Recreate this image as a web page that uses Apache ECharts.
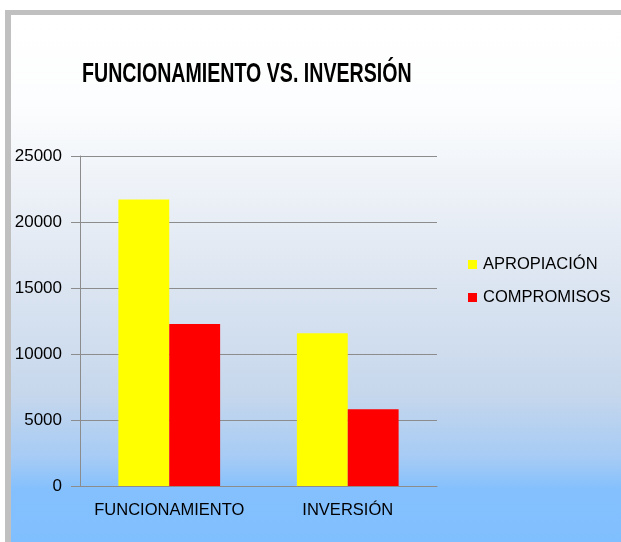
<!DOCTYPE html>
<html lang="es">
<head>
	<meta charset="UTF-8">
	<title>Funcionamiento vs. Inversión</title>
	<script src="https://cdn.jsdelivr.net/npm/echarts@6/dist/echarts.min.js"></script>
	<style>
		html, body { margin: 0; padding: 0; background: #fff; }
		#chart { width: 621px; height: 542px; }
	</style>
</head>
<body>
	<div id="chart"></div>
	<script>
		// datos
		var categorias = ['FUNCIONAMIENTO', 'INVERSIÓN'];
		var apropiacion = [21700, 11570];
		var compromisos = [12270, 5810];
		var nombresSeries = ['APROPIACIÓN', 'COMPROMISOS'];
		var titulo = 'FUNCIONAMIENTO VS. INVERSIÓN';

		var fuente = 'Liberation Sans, Arial, sans-serif';

		var chart = echarts.init(document.getElementById('chart'));
		var option = {
			backgroundColor: '#fff',
			animation: false,
			graphic: [
				// marco gris arriba / izquierda
				{ type: 'rect', z: -20, silent: true,
					shape: { x: 5, y: 10, width: 616, height: 532 },
					style: { fill: '#c0c0c0' } },
				// fondo degradado
				{ type: 'rect', z: -19, silent: true,
					shape: { x: 11, y: 15, width: 610, height: 527 },
					style: {
						fill: new echarts.graphic.LinearGradient(0, 0, 0, 1, [
							{ offset: 0, color: '#ffffff' },
							{ offset: 0.17, color: '#fcfdfe' },
							{ offset: 0.45, color: '#e2e9f3' },
							{ offset: 0.72, color: '#c6d7ec' },
							{ offset: 0.84, color: '#a6cbf5' },
							{ offset: 0.9, color: '#84c0fd' },
							{ offset: 1, color: '#80bfff' }
						])
					} },
				// titulo (letra estrecha: se comprime en horizontal)
				{ type: 'text', z: 10, silent: true,
					x: 82, y: 74, scaleX: 0.7,
					style: {
						text: titulo,
						font: 'bold 28px ' + fuente,
						fill: '#000',
						verticalAlign: 'middle'
					} }
			],
			legend: {
				data: nombresSeries,
				orient: 'vertical',
				left: 468,
				top: 256,
				padding: 0,
				itemWidth: 9,
				itemHeight: 9,
				itemGap: 16,
				icon: 'rect',
				textStyle: { fontFamily: fuente, fontSize: 16.5, color: '#000', padding: [0, 0, 0, 1] }
			},
			grid: { left: 80, right: 184, top: 156, bottom: 56 },
			xAxis: {
				type: 'category',
				data: categorias,
				axisLine: { lineStyle: { color: '#8c8c8c' } },
				axisTick: { length: 6, lineStyle: { color: '#8c8c8c' } },
				axisLabel: { interval: 0, fontFamily: fuente, fontSize: 16.5, color: '#000', margin: 16 }
			},
			yAxis: {
				type: 'value',
				min: 0,
				max: 25000,
				interval: 5000,
				axisLine: { show: true, lineStyle: { color: '#8c8c8c' } },
				axisTick: { show: true, length: 9, lineStyle: { color: '#8c8c8c' } },
				splitLine: { lineStyle: { color: '#8c8c8c' } },
				axisLabel: {
					fontFamily: fuente, fontSize: 17, color: '#000', margin: 18,
					formatter: function (v) { return String(v); }
				}
			},
			series: [
				{
					name: nombresSeries[0],
					type: 'bar',
					data: apropiacion,
					itemStyle: { color: '#ffff00' },
					barGap: '0%',
					barCategoryGap: '43%'
				},
				{
					name: nombresSeries[1],
					type: 'bar',
					data: compromisos,
					itemStyle: { color: '#ff0000' }
				}
			]
		};
		chart.setOption(option);
	</script>
</body>
</html>
